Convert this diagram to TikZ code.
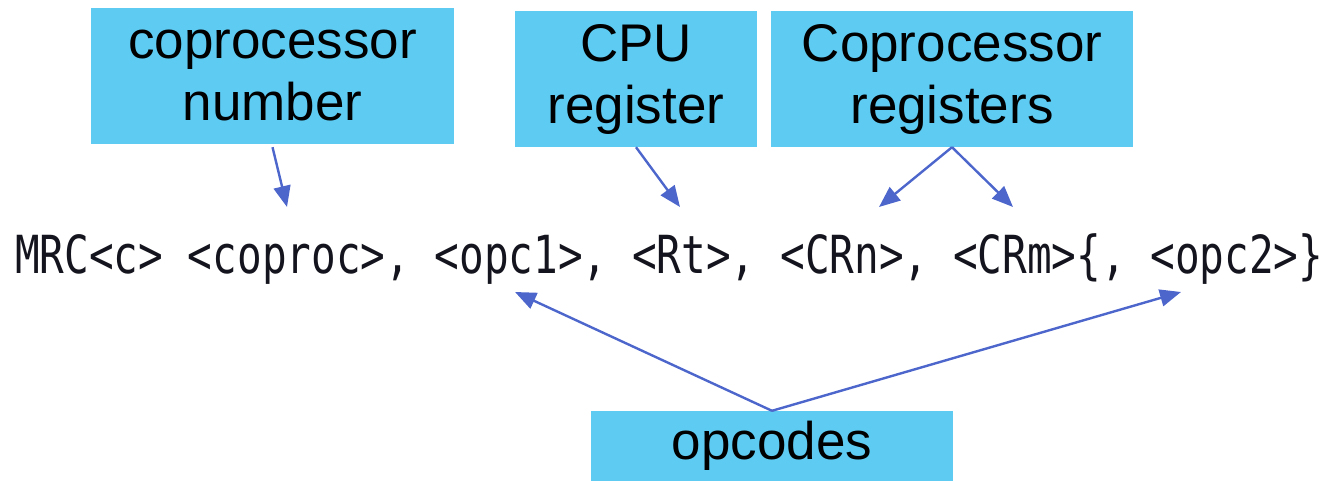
\documentclass[tikz,border=0pt]{standalone}
\usepackage{fontspec}
\usepackage{graphicx}
\usetikzlibrary{arrows.meta}
\newfontfamily\boxfont{Liberation Sans}
\newfontfamily\codefont{DejaVu Sans Mono}
\definecolor{boxblue}{RGB}{94,203,243}
\definecolor{arrblue}{RGB}{76,102,204}
\definecolor{codeink}{RGB}{20,20,30}
\tikzset{
  labelbox/.style={fill=boxblue, inner sep=0pt, align=center,
    font=\boxfont\fontsize{53pt}{62pt}\selectfont},
  arr/.style={draw=arrblue, line width=2.4pt,
    -{Triangle[length=21pt,width=17pt]}}
}
\begin{document}
\begin{tikzpicture}[x=1pt,y=-1pt]
\useasboundingbox (0,0) rectangle (1327,481);
% boxes
\node[labelbox, minimum width=363pt, minimum height=136pt] (cn) at (272.5,76) {coprocessor\\number};
\node[labelbox, minimum width=242pt, minimum height=136pt] (cpu) at (636,79) {CPU\\register};
\node[labelbox, minimum width=362pt, minimum height=136pt] (creg) at (952,79) {Coprocessor\\registers};
\node[labelbox, minimum width=362pt, minimum height=70pt] (opc) at (772,446) {opcodes};
% code line
\node[anchor=base west, inner sep=0pt, text=codeink] (code) at (15,273)
  {\scalebox{1}[1.28]{\codefont\fontsize{41pt}{48pt}\selectfont MRC<c> <coproc>, <opc1>, <Rt>, <CRn>, <CRm>\{, <opc2>\}}};
% arrow targets
\coordinate (tcop) at (287,207);
\coordinate (trt) at (680,207);
\coordinate (tcrn) at (879,207);
\coordinate (tcrm) at (1013,207);
\coordinate (topc1) at (515,292);
\coordinate (topc2) at (1181,292);
% arrows
\draw[arr] ([yshift=-3pt]cn.south) -- (tcop);
\draw[arr] (cpu.south) -- (trt);
\draw[arr] (creg.south) -- (tcrn);
\draw[arr] (creg.south) -- (tcrm);
\draw[arr] (opc.north) -- (topc1);
\draw[arr] (opc.north) -- (topc2);
\end{tikzpicture}
\end{document}
